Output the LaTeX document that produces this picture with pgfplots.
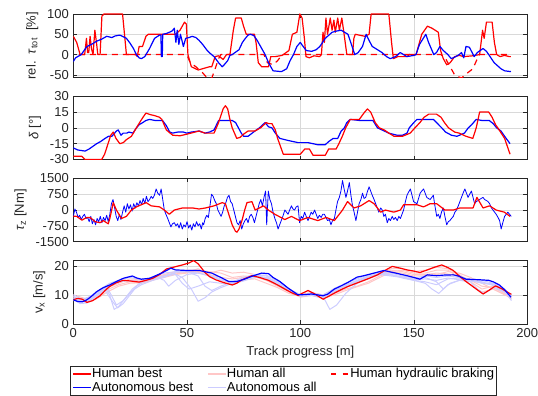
\documentclass[border=0pt]{standalone}
\usepackage{fontspec}
\setmainfont{Liberation Sans}
\usepackage{pgfplots}
\pgfplotsset{compat=1.18}
\usepgfplotslibrary{groupplots}
\definecolor{hbest}{rgb}{1,0,0}
\definecolor{abest}{rgb}{0,0,1}
\definecolor{hall}{rgb}{1,0.78,0.78}
\definecolor{aall}{rgb}{0.8,0.8,1}
\definecolor{axgray}{rgb}{0.15,0.15,0.15}
\begin{document}
\fontsize{13}{15.6}\selectfont
\begin{tikzpicture}
\begin{groupplot}[
  group style={group size=1 by 4, vertical sep=18.9pt, x descriptions at=edge bottom},
  width=454pt, height=63.3pt, scale only axis,
  xmin=0, xmax=200, xtick={0,50,...,200},
  grid=major, major grid style={black!15, line width=0.6pt},
  axis line style={axgray, line width=0.8pt},
  tick style={axgray, line width=0.6pt}, tick align=inside, major tick length=4pt,
  every tick label/.append style={font=\fontsize{13}{15.6}\selectfont, text=axgray},
  label style={font=\fontsize{13}{15.6}\selectfont, text=axgray},
  /pgf/number format/assume math mode=true,
  /pgf/number format/1000 sep={},
  scaled y ticks=false,
  every axis plot/.append style={line join=round},
]
%%%%%%%%%%%%%%%%%%%% Panel 1
\nextgroupplot[ymin=-56, ymax=100, ytick={-50,0,50,100},
  ylabel={rel.\ \ \textit{τ}\textsubscript{tot}\ \ [\%]}]
\addplot[hbest, line width=1.2pt] coordinates {
(0,45)(1.5,30)(3,0)(5,0)(5.8,40)(6.3,5)(6.8,5)(7.4,45)(8,15)(8.7,0)(9.5,60)(10.2,30)(10.8,0)(11.8,0)(12.6,95)(13.5,100)(21.7,100)(23.4,0)(27.5,0)(28.2,-5)(29,20)(30.5,20)(32,45)(33,50)(45,50)(47,60)(49,80)(49.8,75)(50.5,0)(52,-30)(55,-38)(60,-30)(61,-30)(62.5,-5)(64,-3)(66,-12)(67.5,0)(69,0)(70.5,60)(71.5,90)(74,90)(75,70)(76.2,50)(79.8,50)(80.5,30)(81.5,-20)(83,-30)(86,-30)(87,-5)(89,-5)(92,-2)(95,10)(96.5,50)(98.5,55)(99.8,100)(100.8,90)(101.8,40)(102.5,-5)(104,-8)(106,-3)(108.5,-5)(109.3,0)(110,55)(110.6,30)(111.3,90)(112,50)(113.2,90)(114,60)(114.8,85)(115.4,55)(116.5,90)(117.2,60)(118.3,90)(119.3,50)(120.5,0)(123,0)(123.6,40)(124.2,50)(128.5,45)(130.3,50)(131.2,100)(139,100)(140.2,30)(141,-10)(143,-5)(147,-5)(148,0)(151,0)(153.5,50)(156,70)(158,65)(160.8,55)(161.8,10)(163,-10)(164.5,-25)(166,-20)(168,-5)(170,-2)(172,-5)(176,-3)(179,0)(180.3,60)(181,40)(182,80)(184.5,80)(185.5,30)(186.5,0)(188,-5)(190,-2)(192,-5)(192.8,-5)
};
\addplot[hbest, line width=1.2pt, dash pattern=on 6pt off 5pt] coordinates {
(2.5,0)(50,0)(51.5,-20)(54,-30)(57,-45)(59,-58)(61,-58)(62.5,-35)(64,-10)(65,0)(84,0)(85.5,-20)(88,-25)(90,-15)(92,0)(162,0)(164,-10)(166,-30)(168,-50)(171,-58)(173,-48)(176,-35)(178,-10)(179,0)(193,0)
};
\addplot[abest, line width=1.2pt] coordinates {
(0,-17)(1,-8)(3.5,0)(6,20)(8,25)(10.3,33)(12.5,38)(14.7,45)(17,42)(18.5,46)(20.5,48)(22,44)(23.4,40)(25,28)(26.5,15)(27.8,0)(29,-8)(30,-10)(31.5,-5)(33.6,15)(35.8,40)(38,48)(38.6,48)(38.8,-5)(39.2,-5)(39.4,50)(41,52)(42.3,55)(43.5,58)(44.5,65)(45.2,30)(45.8,60)(46.5,25)(47.2,50)(48.5,20)(49.5,40)(51,42)(52.4,45)(54,42)(55.4,35)(57,25)(59,10)(60.5,2)(62,-5)(64,-20)(65.6,-30)(66.5,-25)(68,-15)(69,-2)(70,0)(72,8)(73,12)(74.5,30)(75.8,40)(77,48)(78,50)(79.5,47)(81,35)(83,15)(84.5,0)(86,-20)(87,-30)(88,-40)(91.7,-42)(94,-35)(95.5,-15)(97,0)(98.5,20)(100,30)(101,22)(102.6,10)(105,8)(107,12)(108.6,20)(111,40)(114,55)(116,58)(118,60)(119.5,55)(121,50)(122.5,25)(124,0)(125.5,5)(127.4,20)(129,50)(130,38)(131.7,20)(134,12)(136,5)(138,-5)(139.6,-10)(142,-5)(144,5)(145.5,0)(147,-5)(150,-2)(151,0)(152.5,25)(155.3,50)(156.5,30)(158.8,0)(160,5)(161.5,20)(163,10)(165,0)(166.5,-10)(168.5,-5)(170,0)(171,5)(172,-8)(173,20)(174.5,18)(176.6,-5)(178,5)(180.5,15)(182,8)(183,0)(185.4,-20)(187,-28)(188.4,-35)(190,-40)(192.8,-42)
};
%%%%%%%%%%%%%%%%%%%% Panel 2
\nextgroupplot[ymin=-30, ymax=30, ytick={-30,-15,0,15,30},
  ylabel={\textit{δ} [°]}]
\addplot[abest, line width=1.2pt] coordinates {
(0,-19)(2,-21)(5.2,-22)(7,-20)(10.3,-15)(12,-13)(14,-10)(15.5,-8)(17,-8)(19,-3)(19.8,-2)(21,-7)(22,-5)(23.5,-5)(24.5,-4)(26.3,-5)(27.8,0)(29,3)(30.6,5)(32,7)(33.6,8)(36,7)(39.3,7)(41,2)(42.5,-4)(43.7,-5)(46,-4)(48.5,-4)(50,-5)(52,-4)(55.4,-3)(58,-5)(60,-4)(62,-2)(64,7)(67,7)(70,7)(71.5,5)(74,-5)(75,-8)(77,-8)(80,-3)(82,0)(84.5,5)(86,1)(87.5,0)(89,-5)(91,-10)(94.7,-12)(99,-14)(103.4,-14)(107.7,-16)(111,-16)(112.5,-13)(114.5,-10)(116.5,-10)(118,-3)(119.4,0)(120.5,5)(122,8)(126,7)(129.6,7)(132,7)(134,0)(136,-2)(139,-5)(142.6,-7)(145,-7)(147,-5)(148,0)(150,5)(151.4,8)(155,8)(158.6,8)(160,5)(162.3,0)(164,-4)(166.6,-7)(169,-8)(172.3,-5)(174,0)(175.5,3)(177.5,8)(180,7)(183.2,7)(185,4)(186.5,0)(188.4,-3)(190,-8)(192.4,-15)
};
\addplot[hbest, line width=1.2pt] coordinates {
(0,-27)(3.8,-27)(5.2,-30)(12.5,-30)(13.8,-25)(15.3,-15)(16.5,-7)(17.6,-4)(18.8,-10)(20.5,-15)(22,-14)(23.5,-11)(25.6,-8)(27.8,0)(29.5,6)(30.7,10)(32,14)(34,12.5)(36,11.5)(38,10)(39,8)(41,-2)(43.8,-7)(47,-7.5)(50,-6)(51.8,-5)(55.4,-3)(58,-5)(62,-5)(63,0)(64,5)(66,18)(67,21)(68,18)(69,8)(70,0)(72,-10)(73.5,-9)(75,-6)(77,-3)(80,-3)(82.5,0)(85,5)(86,4)(87.5,4)(89,-2)(90,-10)(92.5,-25)(100,-25)(102,-20)(104,-20)(105.6,-26)(111,-26)(112.5,-20)(115.8,-20)(117,-15)(118.5,-8)(120,0)(122,8)(126,8)(128,14)(129.6,18)(131,15)(133,5)(134.8,0)(137,-2)(139,-5)(141.3,-8)(145,-8)(148.4,-5)(150.5,0)(152.7,5)(154.5,10)(156.6,13)(160,13)(162,10)(163.5,5)(165.3,0)(168,-4)(170,-5)(173,-8)(176,-10)(177.5,0)(179,15)(183,15)(184.5,10)(186,3)(187,0)(190,-10)(192.4,-25)
};
%%%%%%%%%%%%%%%%%%%% Panel 3
\nextgroupplot[ymin=-1500, ymax=1500, ytick={-1500,-750,0,750,1500},
  ylabel={\textit{τ}\textsubscript{z} [Nm]}]
\addplot[abest, line width=0.8pt] coordinates {
(0,-300)(0.7,50)(1.4,-100)(2.1,-350)(2.8,-250)(3.5,-450)(4.2,-300)(4.9,-200)(5.6,-400)(6.3,-350)(7,-550)(7.7,-300)(8.4,-650)(9.1,-450)(9.8,-700)(10.5,-400)(11.2,-550)(11.9,-300)(12.6,-600)(13.3,-350)(14,-500)(14.7,-250)(15.4,-550)(16.1,-200)(16.8,300)(17.5,500)(18.2,100)(18.9,-300)(19.6,-500)(20.3,-200)(21,-450)(21.7,-100)(22.4,200)(23.1,-100)(23.8,300)(24.5,50)(25.2,250)(25.9,-50)(26.6,300)(27.3,100)(28,350)(28.7,200)(29.4,450)(30.1,250)(30.8,550)(31.5,300)(32.2,650)(32.9,400)(33.6,500)(34.3,650)(35,550)(35.7,700)(36.5,1000)(37.2,800)(38,700)(38.7,1000)(39.4,500)(40.1,0)(40.8,-200)(41.6,-400)(42.3,-600)(43,-800)(43.7,-650)(44.5,-600)(45.2,-750)(45.9,-650)(46.6,-850)(47.3,-600)(48,-900)(48.7,-700)(49.4,-800)(50.1,-550)(50.8,-850)(51.5,-700)(52.2,-950)(52.9,-650)(53.6,-800)(54.3,-550)(55,-750)(55.7,-650)(56.4,-900)(57,-600)(57.4,-700)(58.1,-400)(58.8,-250)(59.5,-350)(60.2,200)(60.9,750)(61.6,650)(62.3,450)(63,300)(63.7,0)(64.4,-150)(65.1,-300)(65.8,-100)(66.5,200)(67.2,350)(67.9,600)(68.6,700)(69.3,400)(70,300)(70.7,0)(71.4,-300)(72.1,-600)(72.8,-700)(73.5,-500)(74.2,-900)(74.9,-650)(75.6,-500)(76.3,-400)(77,-600)(77.7,-300)(78.4,-200)(79.1,-350)(79.8,-600)(80.5,-300)(81.2,0)(81.9,300)(82.6,500)(83.3,200)(84,600)(84.7,900)(85.2,-700)(85.9,900)(86.6,500)(87.3,300)(88,-100)(88.8,-400)(89.5,-600)(90.2,-900)(90.9,-700)(91.6,-500)(92.3,-300)(93.2,0)(93.9,-100)(94.6,-200)(95.3,0)(96.1,200)(96.8,50)(97.5,0)(98.2,150)(99,200)(99.7,-600)(100.4,-300)(101.1,-400)(101.9,-100)(102.6,-300)(103.4,-500)(104.1,-300)(104.8,-100)(105.5,-200)(106.3,0)(107,-200)(107.7,-400)(108.4,-250)(109.2,-350)(109.9,-200)(110.6,-200)(111.3,-350)(112,-500)(112.8,-450)(113.5,-700)(114.2,-500)(115,-400)(115.7,0)(116.4,400)(117.2,600)(117.9,900)(118.6,1400)(119.3,1000)(120.1,600)(120.8,900)(121.6,1300)(122.3,700)(123,200)(123.7,-100)(124.5,-500)(125.2,-100)(125.9,300)(126.7,500)(127.4,800)(128.1,550)(128.8,600)(129.5,850)(130.3,1100)(131,900)(131.7,700)(132.5,500)(133.2,300)(133.9,100)(134.6,-100)(135.4,100)(136.1,0)(136.8,-300)(137.5,-200)(138.3,-600)(139,-400)(139.7,-500)(140.5,-300)(141.2,-450)(141.9,-350)(142.7,-500)(143.4,-300)(144.1,-400)(144.8,-200)(145.5,0)(146.3,400)(147,700)(147.7,850)(148.5,1000)(149.2,700)(149.9,400)(150.6,350)(151.4,300)(152.1,550)(152.8,800)(153.5,900)(154.3,1000)(155,800)(155.7,600)(156.4,550)(157.2,500)(157.9,600)(158.6,700)(159.3,200)(160.1,-300)(160.8,-200)(161.5,-400)(162.2,-100)(163,100)(163.7,-300)(164.5,-700)(165.2,-550)(165.9,-500)(166.6,-400)(167.4,-300)(168.1,-100)(168.8,0)(169.6,200)(170.3,400)(171,600)(171.7,800)(172.5,1000)(173.2,800)(173.9,600)(174.6,750)(175.4,900)(176.1,600)(176.8,300)(177.5,400)(178.3,450)(179,500)(179.7,550)(180.5,600)(181.2,500)(182,450)(182.7,400)(183.4,300)(184.2,100)(184.9,0)(185.6,-100)(186.3,-200)(187.1,-350)(187.8,-500)(188.5,-900)(189.2,-600)(190,-300)(190.7,-200)(191.4,-100)(192.2,-200)(192.9,-300)
};
\addplot[hbest, line width=1.2pt] coordinates {
(0,-290)(1.5,-300)(3.8,-480)(5.9,-350)(7.4,-350)(9.6,-550)(11.8,-600)(13.2,-500)(15.4,-650)(16.1,-400)(17.6,350)(19,0)(21.2,-400)(23.4,-300)(25.6,0)(27.8,150)(29.9,250)(32.1,350)(34.3,200)(38,150)(40.1,0)(42.3,-200)(44.5,0)(48.1,100)(52.5,100)(55.4,50)(58.3,100)(62,200)(65.6,350)(67,300)(68.5,-200)(70,-700)(71.4,-1000)(72.1,-1050)(73,-900)(74.3,-500)(75.5,0)(76.5,350)(78.7,400)(80.1,0)(83.8,200)(85.9,0)(88.8,-200)(93.2,-450)(96.1,-300)(99.7,-500)(103.4,-350)(107.7,-500)(111.4,-350)(115,-500)(118.6,0)(120.8,400)(123.7,100)(126.6,200)(130.3,450)(132.5,300)(135.4,-100)(137.5,0)(141.2,-100)(144.1,0)(145.5,250)(151.4,250)(154.3,150)(157.2,300)(160.1,300)(163.7,0)(167.4,0)(170.3,100)(176.1,100)(177.8,600)(180.5,100)(183.4,200)(186.3,0)(189.9,-100)(192.4,-300)
};
%%%%%%%%%%%%%%%%%%%% Panel 4
\nextgroupplot[ymin=0, ymax=21.8, ytick={0,10,20},
  ylabel={v\textsubscript{x} [m/s]}, xlabel={Track progress [m]},
  legend style={at={(-0.007,-0.665)}, anchor=north west, legend columns=3,
    draw=axgray, line width=0.6pt, font=\fontsize{13}{14}\selectfont, text=black,
    /tikz/every odd column/.append style={column sep=0pt},
    /tikz/every even column/.append style={column sep=13.5pt},
    nodes={inner xsep=0.5pt, inner ysep=1pt},
    inner xsep=2pt, inner ysep=1pt, row sep=0pt},
  legend cell align=left]
\addlegendimage{legend image code/.code={\draw[hbest, line width=1.2pt] (0pt,0pt) -- (18pt,0pt);}}\addlegendentry{Human best}
\addlegendimage{legend image code/.code={\draw[hall, line width=1.2pt] (0pt,0pt) -- (18pt,0pt);}}\addlegendentry{Human all}
\addlegendimage{legend image code/.code={\draw[hbest, line width=1.2pt, dash pattern=on 5pt off 6.5pt] (0pt,0pt) -- (18pt,0pt);}}\addlegendentry{Human hydraulic braking}
\addlegendimage{legend image code/.code={\draw[abest, line width=1.2pt] (0pt,0pt) -- (18pt,0pt);}}\addlegendentry{Autonomous best}
\addlegendimage{legend image code/.code={\draw[aall, line width=1.2pt] (0pt,0pt) -- (18pt,0pt);}}\addlegendentry{Autonomous all}
% Human all
\addplot[hall, line width=1pt, forget plot] coordinates {(0,9)(5,8)(10,9.5)(15,12.5)(20,14.5)(25,15)(30,14.8)(35,15.5)(40,17)(45,18)(50,18.5)(55,18.5)(60,18)(65,17.5)(70,16)(75,16.5)(80,16.2)(85,15)(90,13)(95,11)(100,9.8)(105,10.5)(110,9.5)(115,11)(120,12.5)(125,14)(130,15.5)(135,17)(140,19)(145,19)(150,18)(155,18.5)(160,19.5)(165,19)(170,17)(175,14.5)(180,12)(185,13)(190,11)(193,9.5)};
\addplot[hall, line width=1pt, forget plot] coordinates {(0,10)(5,8.8)(10,9)(15,11.8)(20,13.5)(25,14.5)(30,14)(35,15)(40,16.5)(45,17.5)(50,18.2)(55,17.8)(60,16.5)(65,15)(70,14)(75,15.2)(80,15.5)(85,14)(90,12.5)(95,10.5)(100,9.5)(105,10)(110,9)(115,10.5)(120,12)(125,13)(130,14.5)(135,16.5)(140,18)(145,18.5)(150,17.5)(155,17.5)(160,18.5)(165,18.5)(170,16)(175,13.5)(180,11)(185,12)(190,10)(193,9)};
\addplot[hall, line width=1pt, forget plot] coordinates {(0,9.5)(5,7.5)(10,8.5)(15,11)(20,13)(25,14)(30,14.2)(35,15.2)(40,16)(45,17)(50,17.5)(55,18)(60,17.5)(65,18.5)(70,17.5)(75,17.8)(80,17)(85,15.5)(90,13.8)(95,11.5)(100,10.2)(105,10.8)(110,10)(115,11.5)(120,13)(125,14.8)(130,16.2)(135,17.5)(140,18.5)(145,18)(150,17)(155,17)(160,17.5)(165,17.2)(170,16.5)(175,15)(180,13)(185,12.5)(190,10.5)(193,8.5)};
\addplot[hall, line width=1pt, forget plot] coordinates {(0,8.8)(5,8.2)(10,10)(15,12.5)(20,14)(25,15.5)(30,15.2)(35,16)(40,16.8)(45,17.2)(50,17.8)(55,19)(60,17)(65,16)(70,15.5)(75,16)(80,16.5)(85,15.5)(90,13.5)(95,11.2)(100,9.2)(105,9.8)(110,8.8)(115,10)(120,11.5)(125,12.8)(130,14)(135,16)(140,17.8)(145,17.5)(150,16.5)(155,16.5)(160,17)(165,18)(170,17.5)(175,16)(180,14)(185,12)(190,10.2)(193,8.8)};
% Autonomous all
\addplot[aall, line width=1pt, forget plot] coordinates {(0,9.5)(3,8)(6,7.5)(10,10)(14,12.5)(16,10)(18,5)(20,6)(23,9)(26,12)(30,14.5)(35,15.5)(40,16.5)(44,17.5)(48,16)(52,12)(55,7.8)(58,9)(61,11)(65,12.5)(70,14)(75,15.5)(80,16.5)(85,16)(90,14)(95,12)(100,10)(105,10)(110,9.5)(113,5)(116,6.5)(120,10.5)(125,14)(130,16)(135,17.5)(140,17)(145,16)(150,15.5)(155,16)(160,14.5)(163,12)(166,14)(170,15)(175,15)(180,14)(185,13.5)(190,11)(193,8.5)};
\addplot[aall, line width=1pt, forget plot] coordinates {(0,8.5)(3,7)(6,7.2)(10,9.5)(14,11.5)(17,8)(19.5,5.5)(22,7)(25,10)(28,13)(32,15)(36,16.5)(40,15)(42,13)(45,15)(50,17)(55,17.5)(60,16.5)(65,15)(70,14.5)(75,15.5)(80,16.5)(85,15.5)(90,13.5)(95,11.5)(100,9.5)(105,9.8)(110,9)(115,11)(120,13.5)(125,15)(130,16.5)(135,17)(140,16.5)(145,16)(150,15)(155,14)(158,12)(161,10.5)(165,13.5)(170,15)(175,14.5)(178,12)(181,10.5)(185,12.5)(190,11)(193,9.5)};
\addplot[aall, line width=1pt, forget plot] coordinates {(0,8)(4,8)(8,9.8)(12,12)(16,14)(20,15)(25,16)(30,15.2)(35,16)(40,17.5)(45,18)(50,18)(55,17.5)(60,16.8)(65,15.5)(70,14.2)(75,15)(80,16.8)(85,16.8)(90,14.8)(95,12)(100,10)(105,10.5)(110,10)(115,12.2)(120,14)(125,15.5)(130,17)(135,17.8)(140,17.5)(145,16.5)(150,15.8)(155,16.5)(160,16)(165,16.5)(170,16)(175,15.5)(180,15)(185,14)(190,12)(193,9.5)};
\addplot[aall, line width=1pt, forget plot] coordinates {(0,10)(4,8.5)(8,9.5)(12,11.5)(16,13)(20,14.5)(25,15)(30,14.5)(35,15.5)(40,16.5)(45,17)(48,14)(51,12)(55,13)(60,14.5)(65,14)(70,13.8)(75,14.8)(80,16)(85,16)(90,14.5)(95,11.8)(100,9.8)(105,10.2)(110,9.5)(115,11.5)(120,13)(125,14.5)(130,16)(135,17)(140,16.8)(145,16.2)(150,15.2)(155,15.5)(160,15)(165,15.8)(170,15.2)(175,15)(180,14.5)(185,13.2)(190,11.5)(193,8)};
\addplot[aall, line width=1pt, forget plot] coordinates {(0,9)(4,7.8)(8,8.8)(12,11)(15,12.5)(17,9.5)(19,6.5)(22,8)(26,11.5)(30,13.5)(35,15)(40,16)(45,17.8)(50,18)(55,16.5)(58,13)(61,11.5)(65,13)(70,14.5)(75,16)(80,17)(85,16.5)(90,14)(95,11.5)(100,9.7)(105,10)(110,9.8)(115,11.8)(120,13.2)(125,14.8)(130,16.5)(135,17.2)(140,17)(145,15.8)(150,15)(155,14.5)(160,13.5)(165,15.5)(170,15.8)(175,14.8)(180,14.2)(185,13.8)(190,11.8)(193,10)};
% Best
\addplot[hbest, line width=1.2pt, forget plot] coordinates {
(0,8.3)(2,8.8)(4,8.5)(6,7.4)(8.5,8)(11.8,9.7)(14,11.5)(16,12.9)(19,14.2)(22,15)(25,14.8)(29,14.4)(32,15)(35,15.7)(38,17)(41,18.9)(44,19.5)(48,20.3)(51,21)(53,21.8)(55,20.7)(58,17.7)(60,16.3)(62.7,15.2)(66,14.3)(70,13.4)(72,14)(74.3,15.2)(78.7,16.6)(82,16)(86,15)(90,13.4)(93.2,12)(96,10.8)(99,9.8)(101,10.6)(103.4,11.5)(106,10.5)(110,8.5)(112,9.3)(115,10.6)(118,11.8)(121,12.9)(124,13.8)(126.7,14.6)(130,15.6)(134,16.9)(137,18.3)(140.5,19.8)(144,19.2)(147,18.6)(150,18.2)(152.7,17.7)(156,18.6)(159,19.5)(162.3,20.3)(165,19.4)(167.4,18.4)(170,16.5)(173,14.6)(177,12.3)(180.5,10.3)(183,11.5)(186,13.1)(189,12)(192,10.6)(193,10.2)
};
\addplot[abest, line width=1.2pt, forget plot] coordinates {
(0,8.3)(2,7.7)(4,7.6)(6,8.3)(8,9.5)(10.3,11.1)(13,12.4)(16,13.4)(19,14.6)(22,15.7)(26,16.5)(28,15.8)(30,15.4)(33.6,15.7)(36,16.5)(39.4,17.7)(43,19.2)(45,18.6)(50,18.4)(55.4,18.4)(61,17.5)(65,16)(68.5,14.6)(72,14.6)(75,15.3)(79,16.5)(83,17.5)(86,17.3)(88,16)(91,14.6)(94.7,12.3)(99,10)(102,10.1)(105,10.3)(110,9.7)(112,10.2)(115,12)(118,13.1)(121,14.3)(125,16.1)(128,16.6)(132.5,17.5)(136.8,18.4)(142,17.5)(147,16.6)(150,16)(152.7,15.4)(156,16.9)(160,16.6)(163,16.8)(167.4,16.9)(170,16.4)(173,15.4)(176,15.3)(179,15.2)(183,15)(185,14.5)(187.7,13.4)(190,11.8)(192.8,9.2)
};
\end{groupplot}
\pgfresetboundingbox
\path[use as bounding box] ([shift={(-73.3pt,14pt)}]group c1r1.north west) rectangle ([shift={(10.7pt,-72pt)}]group c1r4.south east);
\end{tikzpicture}
\end{document}
